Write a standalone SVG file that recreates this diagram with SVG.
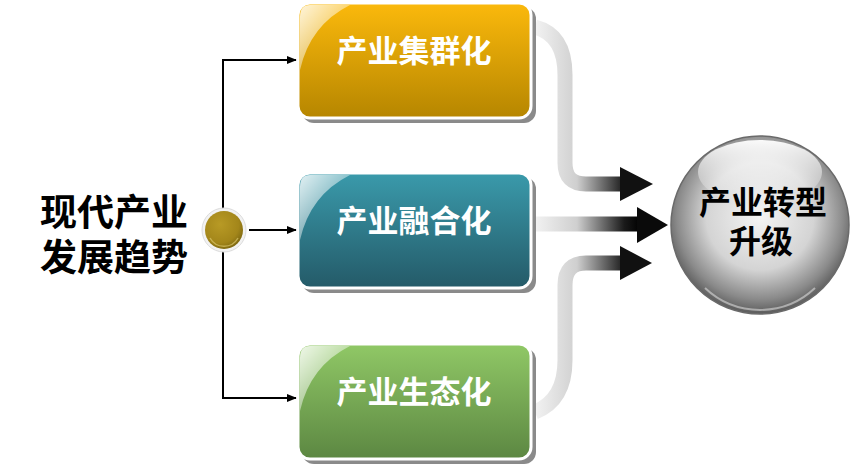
<svg xmlns="http://www.w3.org/2000/svg" width="854" height="467" viewBox="0 0 854 467">
<defs>
<linearGradient id="gOrange" x1="0" y1="0" x2="0" y2="1"><stop offset="0" stop-color="#fbb90c"/><stop offset="1" stop-color="#b68600"/></linearGradient>
<linearGradient id="gTeal" x1="0" y1="0" x2="0" y2="1"><stop offset="0" stop-color="#3a9aab"/><stop offset="1" stop-color="#245a68"/></linearGradient>
<linearGradient id="gGreen" x1="0" y1="0" x2="0" y2="1"><stop offset="0" stop-color="#90c866"/><stop offset="1" stop-color="#5c8742"/></linearGradient>
<linearGradient id="gGloss" x1="0" y1="0" x2="1" y2="1"><stop offset="0" stop-color="#fff" stop-opacity="0.85"/><stop offset="1" stop-color="#fff" stop-opacity="0"/></linearGradient>
<linearGradient id="gArrow" gradientUnits="userSpaceOnUse" x1="535" y1="0" x2="640" y2="0"><stop offset="0" stop-color="#f2f2f2"/><stop offset="0.4" stop-color="#cfcfcf"/><stop offset="0.85" stop-color="#1a1a1a"/><stop offset="1" stop-color="#000"/></linearGradient>
<radialGradient id="gSphere" cx="0.5" cy="0.45" r="0.55"><stop offset="0" stop-color="#f4f4f4"/><stop offset="0.55" stop-color="#d4d4d4"/><stop offset="0.85" stop-color="#8a8a8a"/><stop offset="1" stop-color="#5a5a5a"/></radialGradient>
<linearGradient id="gSphereTop" x1="0" y1="0" x2="0" y2="1"><stop offset="0" stop-color="#fff" stop-opacity="0.95"/><stop offset="1" stop-color="#fff" stop-opacity="0"/></linearGradient>
<radialGradient id="gDot" cx="0.4" cy="0.35" r="0.7"><stop offset="0" stop-color="#b89a25"/><stop offset="0.7" stop-color="#a3861a"/><stop offset="1" stop-color="#7a6510"/></radialGradient>
<marker id="ah" markerWidth="10" markerHeight="8" refX="9" refY="4" orient="auto" markerUnits="userSpaceOnUse"><path d="M0,0 L10,4 L0,8 Z" fill="#000"/></marker>
</defs>
<style>
.box-shadow{fill:#8a8a8a;}
.box{stroke:#fff;stroke-width:3;}
.btxt{font-family:"Liberation Sans","Noto Sans CJK SC",sans-serif;font-weight:700;font-size:31px;fill:#fff;text-anchor:middle;dominant-baseline:central;}
.ltxt{font-family:"Liberation Sans","Noto Sans CJK SC",sans-serif;font-weight:700;font-size:37px;fill:#000;}
.stxt{font-family:"Liberation Sans","Noto Sans CJK SC",sans-serif;font-weight:700;font-size:32px;fill:#000;text-anchor:middle;dominant-baseline:central;}
.line{fill:none;stroke:#000;stroke-width:2;}
.band{fill:none;stroke:url(#gArrow);stroke-width:15;}
</style>

<g id="connectors">
<path class="line" d="M223,210 V60 H296" marker-end="url(#ah)"/>
<path class="line" d="M223,250 V398 H296" marker-end="url(#ah)"/>
<path class="line" d="M249,230 H296" marker-end="url(#ah)"/>
<path class="band" d="M535,27 Q565,35 565,75 V163 Q565,184 586,184 H622"/>
<path d="M620,167 L653,184 L620,201 Z" fill="#111"/>
<path class="band" d="M535,224 H640"/>
<path d="M637,207 L668,225 L637,243 Z" fill="#0a0a0a"/>
<path class="band" d="M535,412 Q565,400 565,360 V285 Q565,263 586,263 H622"/>
<path d="M620,246 L652,263 L620,280 Z" fill="#111"/>
</g>

<g id="label-left">
<text class="ltxt" x="40" y="226">现代产业</text>
<text class="ltxt" x="40" y="271">发展趋势</text>
</g>

<g id="hub">
<circle cx="224" cy="230" r="22" fill="#f2f2f2" stroke="#dcdcdc" stroke-width="1"/>
<circle cx="224" cy="230" r="19" fill="url(#gDot)"/>
<path d="M210,238 A16,16 0 0 0 238,238" fill="none" stroke="#d9c46a" stroke-width="1.5" opacity="0.7"/>
</g>

<g id="node-cluster">
<rect class="box-shadow" x="302" y="7" width="234" height="116" rx="12"/>
<rect class="box" x="298" y="3" width="233" height="115" rx="12" fill="url(#gOrange)"/>
<path d="M310,5 Q300,5 300,17 V70 Q310,25 350,5 Z" fill="url(#gGloss)"/>
<text class="btxt" x="414" y="51">产业集群化</text>
</g>

<g id="node-fusion">
<rect class="box-shadow" x="302" y="177" width="234" height="116" rx="12"/>
<rect class="box" x="298" y="173" width="233" height="115" rx="12" fill="url(#gTeal)"/>
<path d="M310,175 Q300,175 300,187 V240 Q310,195 350,175 Z" fill="url(#gGloss)"/>
<text class="btxt" x="414" y="221">产业融合化</text>
</g>

<g id="node-eco">
<rect class="box-shadow" x="302" y="348" width="234" height="116" rx="12"/>
<rect class="box" x="298" y="344" width="233" height="115" rx="12" fill="url(#gGreen)"/>
<path d="M310,346 Q300,346 300,358 V411 Q310,366 350,346 Z" fill="url(#gGloss)"/>
<text class="btxt" x="414" y="392">产业生态化</text>
</g>

<g id="node-upgrade">
<circle cx="760" cy="225" r="89" fill="url(#gSphere)" stroke="#6a6a6a" stroke-width="1.5"/>
<ellipse cx="760" cy="172" rx="62" ry="32" fill="url(#gSphereTop)"/>
<path d="M705,288 A80,80 0 0 0 815,288" fill="none" stroke="#fff" stroke-width="2" opacity="0.45"/>
<text class="stxt" x="763" y="203">产业转型</text>
<text class="stxt" x="761" y="242">升级</text>
</g>
</svg>
